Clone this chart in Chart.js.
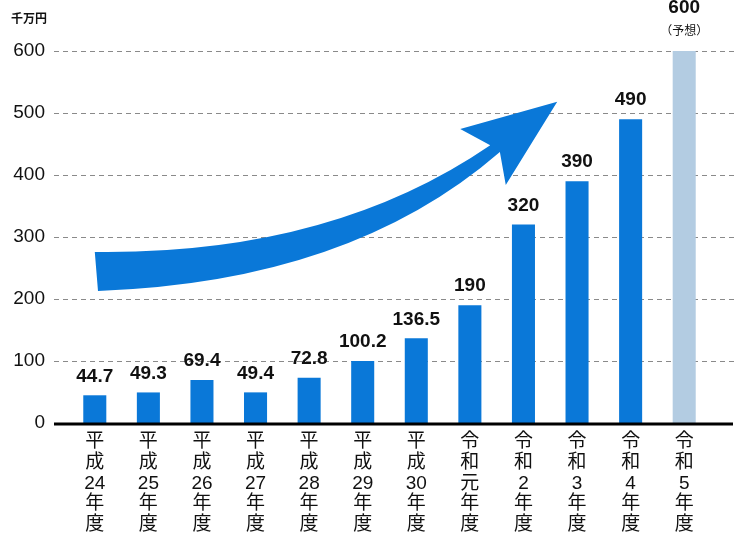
<html lang="ja">
<head>
<meta charset="UTF-8">
<title>千万円</title>
<script src="https://cdn.jsdelivr.net/npm/chart.js@4.4.0/dist/chart.umd.min.js"></script>
<style>
  body { margin: 0; background: #fff; }
  #wrap { width: 740px; height: 540px; position: relative; }
</style>
</head>
<body>
<div id="wrap"><canvas id="myChart" width="740" height="540"></canvas></div>
<script>
// データ
var labels = [
  ['平','成','24','年','度'], ['平','成','25','年','度'], ['平','成','26','年','度'],
  ['平','成','27','年','度'], ['平','成','28','年','度'], ['平','成','29','年','度'],
  ['平','成','30','年','度'], ['令','和','元','年','度'], ['令','和','2','年','度'],
  ['令','和','3','年','度'], ['令','和','4','年','度'], ['令','和','5','年','度']
];
var values = [44.7, 49.3, 69.4, 49.4, 72.8, 100.2, 136.5, 190, 320, 390, 490, 600];
var valueText = ['44.7','49.3','69.4','49.4','72.8','100.2','136.5','190','320','390','490','600'];
var forecastNote = '（予想）';
var unitLabel = '千万円';
var yTicks = [0, 100, 200, 300, 400, 500, 600];

var BLUE = '#0a78d8';
var LIGHT = '#b3cce2';
var NUM_FONT = '"Liberation Sans", Arial, sans-serif';
var JP_FONT = '"Liberation Sans", "Noto Sans CJK JP", sans-serif';

// 矢印 (x: カテゴリ位置, y: 値)
var arrowPts = {
  tailTop: [0, 276], upCtrl: [4.39, 271], upEnd: [7.38, 448],
  barbTop: [6.82, 474], tip: [8.63, 518], barbBot: [7.67, 384],
  lowEnd: [7.56, 437], lowCtrl: [4.76, 227], tailBot: [0.06, 213]
};

// グリッド線と基線
var gridPlugin = {
  id: 'grid',
  beforeDatasetsDraw: function (chart) {
    var c = chart.ctx, a = chart.chartArea, y = chart.scales.y;
    c.save();
    c.strokeStyle = '#8a8a8a';
    c.lineWidth = 1;
    c.setLineDash([5, 4]);
    yTicks.forEach(function (t) {
      if (t === 0) return;
      var py = Math.round(y.getPixelForValue(t)) + 0.5;
      c.beginPath(); c.moveTo(a.left - 14, py); c.lineTo(a.right + 24, py); c.stroke();
    });
    c.restore();
  },
  afterDatasetsDraw: function (chart) {
    var c = chart.ctx, a = chart.chartArea, y = chart.scales.y;
    c.save();
    c.strokeStyle = '#000';
    c.lineWidth = 3;
    var py = y.getPixelForValue(0) + 1;
    c.beginPath(); c.moveTo(a.left - 14, py); c.lineTo(a.right + 22, py); c.stroke();
    c.restore();
  }
};

// 矢印
var arrowPlugin = {
  id: 'arrow',
  afterDatasetsDraw: function (chart) {
    var c = chart.ctx, xs = chart.scales.x, ys = chart.scales.y;
    var x0 = xs.getPixelForValue(0), dx = xs.getPixelForValue(1) - x0;
    function P(p) { return [x0 + p[0] * dx, ys.getPixelForValue(p[1])]; }
    var q = {};
    Object.keys(arrowPts).forEach(function (k) { q[k] = P(arrowPts[k]); });
    c.save();
    c.fillStyle = BLUE;
    c.beginPath();
    c.moveTo(q.tailTop[0], q.tailTop[1]);
    c.quadraticCurveTo(q.upCtrl[0], q.upCtrl[1], q.upEnd[0], q.upEnd[1]);
    c.lineTo(q.barbTop[0], q.barbTop[1]);
    c.lineTo(q.tip[0], q.tip[1]);
    c.lineTo(q.barbBot[0], q.barbBot[1]);
    c.lineTo(q.lowEnd[0], q.lowEnd[1]);
    c.quadraticCurveTo(q.lowCtrl[0], q.lowCtrl[1], q.tailBot[0], q.tailBot[1]);
    c.closePath();
    c.fill();
    c.restore();
  }
};

// 値ラベル
var valuePlugin = {
  id: 'values',
  afterDatasetsDraw: function (chart) {
    var c = chart.ctx, meta = chart.getDatasetMeta(0);
    c.save();
    c.fillStyle = '#111';
    c.textAlign = 'center';
    c.textBaseline = 'middle';
    meta.data.forEach(function (bar, i) {
      c.font = 'bold 19px ' + NUM_FONT;
      if (i === values.length - 1) {
        c.fillText(valueText[i], bar.x, bar.y - 43);
        c.font = '12px "Noto Sans CJK JP", sans-serif';
        c.fillText(forecastNote, bar.x, bar.y - 21);
      } else {
        c.fillText(valueText[i], bar.x, bar.y - 19);
      }
    });
    // 単位
    c.textAlign = 'left';
    c.font = 'bold 12px "Noto Sans CJK JP", sans-serif';
    c.fillText(unitLabel, 11, 18);
    c.restore();
  }
};

var ctx = document.getElementById('myChart').getContext('2d');
var myChart = new Chart(ctx, {
  type: 'bar',
  data: {
    labels: labels,
    datasets: [{
      data: values,
      backgroundColor: values.map(function (v, i) { return i === values.length - 1 ? LIGHT : BLUE; }),
      barPercentage: 0.43,
      categoryPercentage: 1
    }]
  },
  options: {
    responsive: false,
    animation: false,
    layout: { padding: { top: 51, right: 29, bottom: 0, left: 0 } },
    plugins: { legend: { display: false }, tooltip: { enabled: false } },
    scales: {
      x: {
        grid: { display: false, drawTicks: false },
        border: { display: false },
        afterFit: function (s) { s.height = 117; },
        ticks: {
          color: '#111',
          padding: 9,
          maxRotation: 0,
          autoSkip: false,
          font: { family: JP_FONT, size: 19, lineHeight: 1.08 }
        }
      },
      y: {
        min: 0, max: 600,
        grid: { display: false, drawTicks: false },
        border: { display: false },
        afterFit: function (s) { s.width = 68; },
        ticks: {
          stepSize: 100,
          color: '#111',
          padding: 23,
          font: { family: NUM_FONT, size: 19 }
        }
      }
    }
  },
  plugins: [gridPlugin, arrowPlugin, valuePlugin]
});
</script>
</body>
</html>
